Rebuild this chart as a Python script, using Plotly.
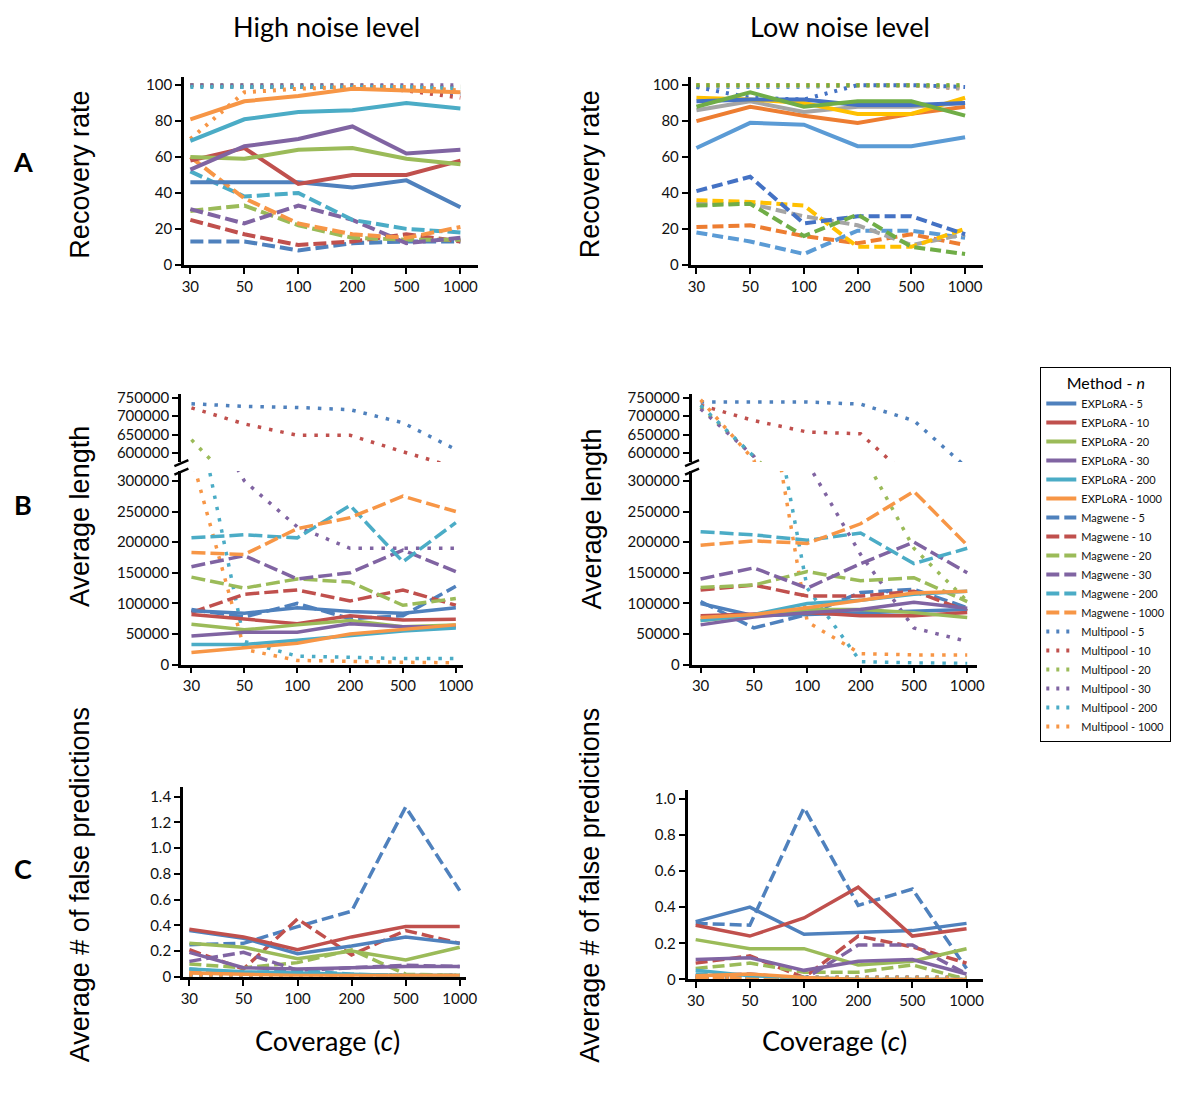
import plotly.graph_objects as go

# Figure size and mapping from target-picture pixels to paper fractions.
# (the photographed page shows the figure slightly scaled and offset; compensate for it)
W, H = 1184, 1080
SX, SY = 0.988, 0.989
CX, CY = 10.0, 12.0

COVERAGE = ["30", "50", "100", "200", "500", "1000"]
N_VALUES = ["5", "10", "20", "30", "200", "1000"]
METHODS = ["EXPLoRA", "Magwene", "Multipool"]

# ---------------- Panel A : recovery rate (%) ----------------
A_HIGH_EXPLORA = [[46, 46, 46, 43, 47, 32], [58, 65, 45, 50, 50, 58], [60, 59, 64, 65, 59, 56],
                  [53, 66, 70, 77, 62, 64], [69, 81, 85, 86, 90, 87], [81, 91, 94, 98, 97, 96]]
A_HIGH_MAGWENE = [[13, 13, 8, 12, 13, 13], [25, 17, 11, 13, 17, 13], [30, 33, 22, 15, 14, 14],
                  [31, 23, 33, 25, 12, 15], [52, 38, 40, 25, 20, 18], [60, 37, 23, 17, 15, 21]]
A_HIGH_MULTIPOOL = [[100, 99, 99, 99, 98, 95], [100, 99, 99, 99, 97, 93], [100, 100, 100, 100, 99, 99],
                    [100, 100, 100, 100, 100, 100], [99, 99, 99, 99, 99, 98], [70, 96, 98, 99, 99, 97]]

A_LOW_EXPLORA = [[65, 79, 78, 66, 66, 71], [80, 88, 83, 79, 84, 88], [86, 91, 85, 88, 88, 90],
                 [93, 92, 90, 84, 84, 93], [91, 92, 92, 89, 89, 90], [88, 96, 88, 91, 91, 83]]
A_LOW_MAGWENE = [[18, 13, 6, 19, 19, 15], [21, 22, 16, 12, 17, 11], [34, 34, 27, 22, 11, 17],
                 [36, 35, 33, 10, 10, 20], [41, 49, 23, 27, 27, 17], [33, 34, 16, 28, 10, 6]]
A_LOW_MULTIPOOL = [[99, 99, 99, 100, 100, 99], [100, 100, 100, 100, 100, 98], [100, 100, 100, 100, 100, 98],
                   [100, 100, 100, 100, 100, 100], [99, 93, 92, 100, 100, 99], [100, 100, 100, 100, 100, 100]]

# ---------------- Panel B : average length ----------------
B_HIGH_EXPLORA = [[88000, 84000, 93000, 87000, 84000, 93000], [82000, 74000, 67000, 80000, 73000, 74000],
                  [66000, 57000, 65000, 72000, 62000, 65000], [47000, 53000, 53000, 67000, 62000, 62000],
                  [33000, 33000, 40000, 47000, 55000, 60000], [20000, 27000, 35000, 50000, 58000, 65000]]
B_HIGH_MAGWENE = [[90000, 78000, 100000, 75000, 80000, 128000], [85000, 115000, 122000, 104000, 122000, 97000],
                  [143000, 125000, 140000, 135000, 97000, 108000], [160000, 178000, 140000, 150000, 187000, 152000],
                  [207000, 212000, 207000, 260000, 168000, 232000], [183000, 180000, 222000, 240000, 275000, 250000]]
B_HIGH_MULTIPOOL = [[734000, 727000, 724000, 718000, 682000, 609000], [723000, 679000, 648000, 648000, 603000, 560000],
                    [636000, 485000, 420000, 400000, 380000, 360000], [450000, 300000, 225000, 190000, 190000, 190000],
                    [460000, 38000, 14000, 12000, 10000, 10000], [340000, 25000, 7000, 5000, 4000, 3000]]

B_LOW_EXPLORA = [[100000, 80000, 82000, 85000, 88000, 90000], [80000, 82000, 85000, 80000, 80000, 85000],
                 [72000, 80000, 90000, 90000, 85000, 77000], [65000, 78000, 85000, 90000, 102000, 92000],
                 [72000, 82000, 100000, 105000, 115000, 120000], [77000, 82000, 93000, 105000, 117000, 120000]]
B_LOW_MAGWENE = [[103000, 60000, 82000, 118000, 123000, 93000], [122000, 130000, 112000, 112000, 120000, 88000],
                 [126000, 130000, 152000, 137000, 142000, 103000], [140000, 158000, 125000, 165000, 200000, 150000],
                 [217000, 212000, 203000, 215000, 165000, 190000], [195000, 202000, 198000, 230000, 283000, 195000]]
B_LOW_MULTIPOOL = [[739000, 739000, 739000, 733000, 688000, 558000], [730000, 688000, 657000, 652000, 520000, 450000],
                   [725000, 590000, 450000, 350000, 190000, 104000], [720000, 590000, 330000, 180000, 60000, 38000],
                   [730000, 590000, 125000, 5000, 3000, 2000], [745000, 580000, 70000, 18000, 16000, 16000]]

# ---------------- Panel C : average # of false predictions ----------------
C_HIGH_EXPLORA = [[0.36, 0.30, 0.18, 0.24, 0.31, 0.26], [0.37, 0.31, 0.21, 0.31, 0.39, 0.39],
                  [0.26, 0.23, 0.14, 0.20, 0.13, 0.23], [0.19, 0.07, 0.06, 0.07, 0.08, 0.08],
                  [0.06, 0.04, 0.03, 0.02, 0.01, 0.01], [0.03, 0.02, 0.01, 0.01, 0.01, 0.01]]
C_HIGH_MAGWENE = [[0.25, 0.26, 0.39, 0.51, 1.32, 0.67], [0.21, 0.06, 0.45, 0.17, 0.36, 0.26],
                  [0.10, 0.07, 0.11, 0.21, 0.02, 0.01], [0.12, 0.19, 0.05, 0.07, 0.09, 0.08],
                  [0.06, 0.03, 0.05, 0.02, 0.01, 0.01], [0.04, 0.03, 0.02, 0.01, 0.01, 0.01]]
C_HIGH_MULTIPOOL = [[0.01, 0.01, 0.01, 0.01, 0.01, 0.01], [0.01, 0.01, 0.01, 0.01, 0.01, 0.01],
                    [0.01, 0.01, 0.01, 0.01, 0.01, 0.01], [0.01, 0.01, 0.01, 0.01, 0.01, 0.01],
                    [0.01, 0.01, 0.01, 0.01, 0.01, 0.01], [0.01, 0.01, 0.01, 0.01, 0.01, 0.01]]

C_LOW_EXPLORA = [[0.32, 0.40, 0.25, 0.26, 0.27, 0.31], [0.30, 0.24, 0.34, 0.51, 0.24, 0.28],
                 [0.22, 0.17, 0.17, 0.08, 0.10, 0.17], [0.11, 0.12, 0.05, 0.10, 0.11, 0.03],
                 [0.05, 0.02, 0.01, 0.00, 0.00, 0.00], [0.02, 0.03, 0.01, 0.00, 0.00, 0.00]]
C_LOW_MAGWENE = [[0.31, 0.30, 0.95, 0.41, 0.50, 0.06], [0.09, 0.13, 0.01, 0.24, 0.18, 0.09],
                 [0.06, 0.09, 0.04, 0.04, 0.08, 0.00], [0.02, 0.03, 0.00, 0.19, 0.19, 0.03],
                 [0.03, 0.02, 0.01, 0.00, 0.00, 0.00], [0.01, 0.01, 0.00, 0.00, 0.00, 0.00]]
C_LOW_MULTIPOOL = [[0.01, 0.01, 0.01, 0.01, 0.01, 0.01], [0.01, 0.01, 0.01, 0.01, 0.01, 0.01],
                   [0.01, 0.01, 0.01, 0.01, 0.01, 0.01], [0.01, 0.01, 0.01, 0.01, 0.01, 0.01],
                   [0.01, 0.01, 0.01, 0.01, 0.01, 0.01], [0.01, 0.01, 0.01, 0.01, 0.01, 0.01]]

A_TICKS = [0, 20, 40, 60, 80, 100]
B_TOP_TICKS = [600000, 650000, 700000, 750000]
B_BOT_TICKS = [0, 50000, 100000, 150000, 200000, 250000, 300000]
C_HIGH_TICKS = [0, 0.2, 0.4, 0.6, 0.8, 1.0, 1.2, 1.4]
C_HIGH_TICKTEXT = ["0", "0.2", "0.4", "0.6", "0.8", "1.0", "1.2", "1.4"]
C_LOW_TICKS = [0, 0.2, 0.4, 0.6, 0.8, 1.0]
C_LOW_TICKTEXT = ["0", "0.2", "0.4", "0.6", "0.8", "1.0"]

COLORS_MAIN = ["#4F81BD", "#C0504D", "#9BBB59", "#8064A2", "#4BACC6", "#F79646"]
COLORS_ALT = ["#5B9BD5", "#ED7D31", "#A5A5A5", "#FFC000", "#4472C4", "#70AD47"]

TICKFONT = dict(family="Lato, sans-serif", size=15, color="#111111")
TXT = "Lato, sans-serif"
ARIAL = "Liberation Sans, Arial, sans-serif"


def fx(px):
    return ((px - CX) / SX) / W


def fy(py):
    return 1 - ((py - CY) / SY) / H


fig = go.Figure()
layout = dict(width=W, height=H, margin=dict(l=0, r=0, t=0, b=0),
              plot_bgcolor="white", paper_bgcolor="white", showlegend=True)


def set_x(idx, x0, x1, anchor, rng, visible=True):
    layout["xaxis" + ("" if idx == 1 else str(idx))] = dict(
        domain=[fx(x0), fx(x1)], anchor=anchor, range=rng, type="category",
        categoryorder="array", categoryarray=COVERAGE, visible=visible,
        showline=True, linecolor="black", linewidth=2.5, ticks="outside", ticklen=6,
        tickwidth=2, tickcolor="black", showgrid=False, zeroline=False,
        tickfont=TICKFONT, fixedrange=True)


def set_y(idx, top, bot, anchor, rng, tickvals, ticktext):
    layout["yaxis" + ("" if idx == 1 else str(idx))] = dict(
        domain=[fy(bot), fy(top)], anchor=anchor, range=rng, tickvals=tickvals, ticktext=ticktext,
        showline=True, linecolor="black", linewidth=2.5, ticks="outside", ticklen=6,
        tickwidth=2, tickcolor="black", showgrid=False, zeroline=False,
        tickfont=TICKFONT, fixedrange=True)


def fmt(v):
    return [str(t) for t in v]


# Axes: 1 A-high, 2 A-low, 3/4 B-high (bottom/top), 5/6 B-low, 7 C-high, 8 C-low
set_x(1, 183, 477, "y", [-0.12, 5.32]); set_y(1, 75, 263.3, "x", [0, 104.6], A_TICKS, fmt(A_TICKS))
set_x(2, 690, 983, "y2", [-0.11, 5.34]); set_y(2, 75, 263.3, "x2", [0, 104.6], A_TICKS, fmt(A_TICKS))

set_x(3, 180, 462, "y3", [-0.2, 5.13]); set_y(3, 470, 664, "x3", [0, 316000], B_BOT_TICKS, fmt(B_BOT_TICKS))
set_x(4, 180, 462, "y4", [-0.2, 5.13], visible=False); set_y(4, 393, 461, "x4", [574600, 760100], B_TOP_TICKS, fmt(B_TOP_TICKS))
set_x(5, 691, 977, "y5", [-0.17, 5.19]); set_y(5, 470, 664, "x5", [0, 316000], B_BOT_TICKS, fmt(B_BOT_TICKS))
set_x(6, 691, 977, "y6", [-0.17, 5.19], visible=False); set_y(6, 393, 461, "x6", [574600, 760100], B_TOP_TICKS, fmt(B_TOP_TICKS))

set_x(7, 182, 465, "y7", [-0.12, 5.11]); set_y(7, 787, 976.7, "x7", [0, 1.472], C_HIGH_TICKS, C_HIGH_TICKTEXT)
set_x(8, 687, 983, "y8", [-0.15, 5.31]); set_y(8, 790, 979.3, "x8", [0, 1.046], C_LOW_TICKS, C_LOW_TICKTEXT)

PANELS = [
    dict(axes=[("x", "y")], data=[A_HIGH_EXPLORA, A_HIGH_MAGWENE, A_HIGH_MULTIPOOL], colors=COLORS_MAIN,
         width=4, dash=["solid", "13px,5px", "3px,7px"], legend=True),
    dict(axes=[("x2", "y2")], data=[A_LOW_EXPLORA, A_LOW_MAGWENE, A_LOW_MULTIPOOL], colors=COLORS_ALT,
         width=4, dash=["solid", "11px,5px", "3px,7px"], legend=False),
    dict(axes=[("x3", "y3"), ("x4", "y4")], data=[B_HIGH_EXPLORA, B_HIGH_MAGWENE, B_HIGH_MULTIPOOL],
         colors=COLORS_MAIN, width=3.5, dash=["solid", "14px,5px", "3.5px,8px"], legend=False),
    dict(axes=[("x5", "y5"), ("x6", "y6")], data=[B_LOW_EXPLORA, B_LOW_MAGWENE, B_LOW_MULTIPOOL],
         colors=COLORS_MAIN, width=3.5, dash=["solid", "14px,5px", "3.5px,8px"], legend=False),
    dict(axes=[("x7", "y7")], data=[C_HIGH_EXPLORA, C_HIGH_MAGWENE, C_HIGH_MULTIPOOL], colors=COLORS_MAIN,
         width=3.5, dash=["solid", "12px,5px", "3px,7px"], legend=False),
    dict(axes=[("x8", "y8")], data=[C_LOW_EXPLORA, C_LOW_MAGWENE, C_LOW_MULTIPOOL], colors=COLORS_MAIN,
         width=3.5, dash=["solid", "12px,5px", "3px,7px"], legend=False),
]

# draw Multipool first, then Magwene, then EXPLoRA on top (legend order set via legendrank)
for p in PANELS:
    for ax_i, (xa, ya) in enumerate(p["axes"]):
        for mi in [2, 1, 0]:
            for ni, n in enumerate(N_VALUES):
                name = f"{METHODS[mi]} - {n}"
                fig.add_trace(go.Scatter(
                    x=COVERAGE, y=p["data"][mi][ni], xaxis=xa, yaxis=ya, mode="lines", name=name,
                    legendgroup=name, legendrank=mi * 10 + ni + 1,
                    showlegend=p["legend"] and ax_i == 0,
                    line=dict(color=p["colors"][ni], width=p["width"], dash=p["dash"][mi]),
                    hoverinfo="skip"))

layout["legend"] = dict(
    x=fx(1040), y=fy(366), xanchor="left", yanchor="top",
    bordercolor="black", borderwidth=1, bgcolor="white",
    font=dict(family=TXT, size=11, color="#111111"),
    title=dict(text="Method - <i>n</i>", side="top center", font=dict(family=TXT, size=16, color="black")),
    itemwidth=30, tracegroupgap=0, traceorder="normal")

ann = []


def add_text(text, x, y, size, family=TXT, angle=0, bold=False):
    ann.append(dict(text=f"<b>{text}</b>" if bold else text, x=fx(x), y=fy(y), xref="paper", yref="paper",
                    showarrow=False, textangle=angle, xanchor="center", yanchor="middle",
                    font=dict(family=family, size=size, color="black")))


add_text("High noise level", 326, 25, 27)
add_text("Low noise level", 840, 25, 27)
add_text("A", 22, 160, 27, bold=True)
add_text("B", 22, 503, 27, bold=True)
add_text("C", 22, 868, 27, bold=True)
add_text("Recovery rate", 79, 173, 27, family=ARIAL, angle=-90)
add_text("Recovery rate", 589, 173, 27, family=ARIAL, angle=-90)
add_text("Average length", 79, 515, 27, family=ARIAL, angle=-90)
add_text("Average length", 591, 518, 27, family=ARIAL, angle=-90)
add_text("Average # of false predictions", 79, 884, 27, family=ARIAL, angle=-90)
add_text("Average # of false predictions", 590, 885, 27, family=ARIAL, angle=-90)
add_text("Coverage (<i>c</i>)", 327, 1041, 27)
add_text("Coverage (<i>c</i>)", 834, 1041, 27)
layout["annotations"] = ann

# axis-break marks on the two length panels
shapes = []
for ax_x in [180, 691]:
    for dy in [0, 8.5]:
        shapes.append(dict(type="line", xref="paper", yref="paper",
                           x0=fx(ax_x - 6.5), y0=fy(465 + dy), x1=fx(ax_x + 7.5), y1=fy(459 + dy),
                           line=dict(color="black", width=2.5)))
layout["shapes"] = shapes

fig.update_layout(**layout)
fig.write_html("out.html")
